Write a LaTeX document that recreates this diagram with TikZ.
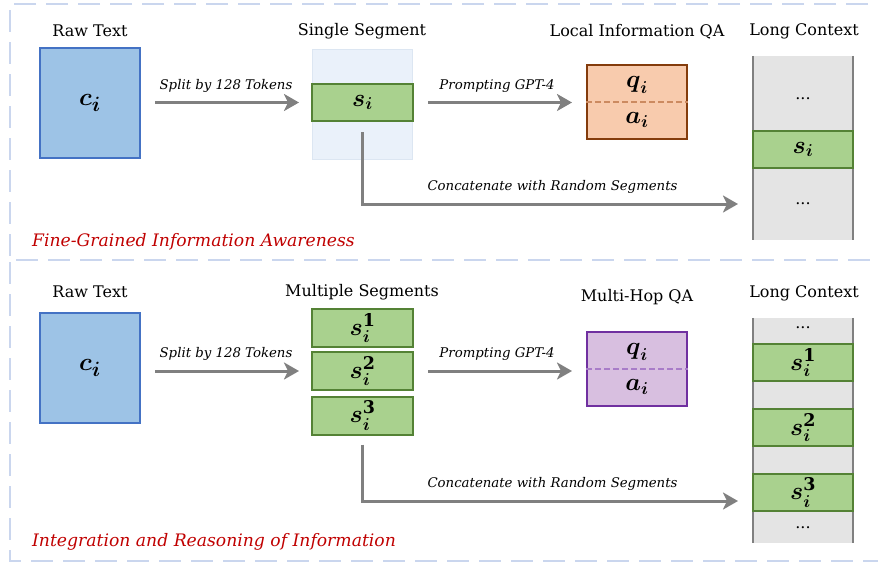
\documentclass[tikz,border=0pt]{standalone}
\usepackage{amsmath}
\usepackage{fontspec}
\setmainfont{DejaVu Serif}
\usetikzlibrary{arrows.meta}
\definecolor{frameblue}{HTML}{CAD6EE}
\definecolor{arrgray}{HTML}{808080}
\definecolor{bluefill}{HTML}{9DC3E6}
\definecolor{blueline}{HTML}{4472C4}
\definecolor{greenfill}{HTML}{A9D18E}
\definecolor{greenline}{HTML}{548235}
\definecolor{orangefill}{HTML}{F8CBAD}
\definecolor{orangeline}{HTML}{843C0C}
\definecolor{orangedash}{HTML}{CC8A60}
\definecolor{purplefill}{HTML}{D8BFE0}
\definecolor{purpleline}{HTML}{7030A0}
\definecolor{purpledash}{HTML}{A87CC8}
\definecolor{segbgfill}{HTML}{EAF1FA}
\definecolor{segbgline}{HTML}{DCE6F2}
\definecolor{lcfill}{HTML}{E4E4E4}
\definecolor{redtxt}{HTML}{C00000}
\newcommand{\bmv}[1]{\boldsymbol{#1}}
\tikzset{
  frame/.style={draw=frameblue, line width=2pt, dash pattern=on 22pt off 10pt},
  arr/.style={draw=arrgray, line width=3pt, -{Stealth[length=15pt,width=17pt,inset=4pt]}},
  title/.style={font=\fontsize{16}{19}\selectfont, text=black, inner sep=0pt},
  lab/.style={font=\fontsize{13.3}{16}\selectfont\itshape, text=black, inner sep=0pt},
  sect/.style={font=\fontsize{17.2}{20}\selectfont\itshape, text=redtxt, inner sep=0pt, anchor=west},
  rawbox/.style={draw=blueline, fill=bluefill, line width=2pt, minimum width=100pt, minimum height=110pt, inner sep=0pt, font=\fontsize{30}{30}\selectfont},
  segbox/.style={draw=greenline, fill=greenfill, line width=2pt, minimum width=101pt, minimum height=37pt, inner sep=0pt, font=\fontsize{25}{25}\selectfont},
  segbg/.style={draw=segbgline, fill=segbgfill, line width=1pt, minimum width=100pt, minimum height=110pt, inner sep=0pt},
  qabox/.style={line width=2pt, minimum width=100pt, minimum height=74pt, inner sep=0pt},
  lcbox/.style={fill=lcfill, draw=none, minimum width=100pt, inner sep=0pt},
  lcside/.style={draw=arrgray, line width=2pt},
  dotsn/.style={font=\fontsize{16}{16}\selectfont, inner sep=0pt},
  mathn/.style={font=\fontsize{25}{25}\selectfont, inner sep=0pt}
}
\begin{document}
\begin{tikzpicture}[x=1pt,y=-1pt]
\useasboundingbox (0,0) rectangle (878,563);
\begin{scope}
\clip (0,0) rectangle (878,563);
\draw[frame] (900,4) -- (10,4) -- (10,260) -- (900,260);
\draw[frame] (10,262) -- (10,561) -- (900,561);
\end{scope}

% ---------- top panel ----------
\node[title] (tRawA) at (90,31) {Raw Text};
\node[title] (tSegA) at (362,31) {Single Segment};
\node[title] (tQAA) at (637,32) {Local Information QA};
\node[title] (tLCA) at (804,31) {Long Context};

\node[rawbox] (rawA) at (90,103) {$\bmv{c}_{\bmv{i}}$};
\node[segbg] (bgA) at (362,104) {};
\node[segbox] (sA) at (362.5,102.5) {$\bmv{s}_{\bmv{i}}$};
\node[qabox, draw=orangeline, fill=orangefill] (qaA) at (637,102) {};
\draw[orangedash, line width=1.5pt, dash pattern=on 6pt off 3pt] (qaA.west) -- (qaA.east);
\node[mathn] (qA) at (637,85) {$\bmv{q}_{\bmv{i}}$};
\node[mathn] (aA) at (637,120) {$\bmv{a}_{\bmv{i}}$};

\node[lcbox, minimum height=184pt] (lcA) at (803,148) {};
\draw[lcside] (lcA.north west) -- (lcA.south west);
\draw[lcside] (lcA.north east) -- (lcA.south east);
\node[segbox, minimum width=100pt] (lsA) at (803,149.5) {$\bmv{s}_{\bmv{i}}$};
\node[dotsn] (d1A) at (803,99) {...};
\node[dotsn] (d2A) at (803,204) {...};

\draw[arr, shorten <=14pt, shorten >=12pt] (rawA.east |- sA) -- node[lab, above=9pt] {Split by 128 Tokens} (sA.west);
\draw[arr, shorten <=14pt, shorten >=14pt] (sA.east) -- node[lab, above=9pt, xshift=-3pt] {Prompting GPT-4} (qaA.west |- sA);
\coordinate (cA) at (738,204);
\draw[arr] ([yshift=-10pt]sA.south) |- node[lab, pos=0.753, above=9pt] {Concatenate with Random Segments} (cA);

\node[sect] (secA) at (32,242) {Fine-Grained Information Awareness};

% ---------- bottom panel ----------
\node[title] (tRawB) at (90,292) {Raw Text};
\node[title] (tSegB) at (362,292) {Multiple Segments};
\node[title] (tQAB) at (637,297) {Multi-Hop QA};
\node[title] (tLCB) at (804,293) {Long Context};

\node[rawbox] (rawB) at (90,368) {$\bmv{c}_{\bmv{i}}$};
\node[segbox, minimum height=38pt] (s1B) at (362.5,328) {$\bmv{s}_{\bmv{i}}^{\mathbf{1}}$};
\node[segbox, minimum height=38pt] (s2B) at (362.5,371) {$\bmv{s}_{\bmv{i}}^{\mathbf{2}}$};
\node[segbox, minimum height=38pt] (s3B) at (362.5,415.5) {$\bmv{s}_{\bmv{i}}^{\mathbf{3}}$};
\node[qabox, draw=purpleline, fill=purplefill] (qaB) at (637,369) {};
\draw[purpledash, line width=1.5pt, dash pattern=on 6pt off 3pt] (qaB.west) -- (qaB.east);
\node[mathn] (qB) at (637,352) {$\bmv{q}_{\bmv{i}}$};
\node[mathn] (aB) at (637,387) {$\bmv{a}_{\bmv{i}}$};

\node[lcbox, minimum height=225pt] (lcB) at (803,430.5) {};
\draw[lcside] (lcB.north west) -- (lcB.south west);
\draw[lcside] (lcB.north east) -- (lcB.south east);
\node[segbox, minimum width=100pt] (ls1B) at (803,362.5) {$\bmv{s}_{\bmv{i}}^{\mathbf{1}}$};
\node[segbox, minimum width=100pt] (ls2B) at (803,427.5) {$\bmv{s}_{\bmv{i}}^{\mathbf{2}}$};
\node[segbox, minimum width=100pt] (ls3B) at (803,492.5) {$\bmv{s}_{\bmv{i}}^{\mathbf{3}}$};
\node[dotsn] (d1B) at (803,328) {...};
\node[dotsn] (d2B) at (803,528) {...};

\draw[arr, shorten <=14pt, shorten >=12pt] (rawB.east |- s2B) -- node[lab, above=9pt] {Split by 128 Tokens} (s2B.west);
\draw[arr, shorten <=14pt, shorten >=14pt] (s2B.east) -- node[lab, above=9pt, xshift=-3pt] {Prompting GPT-4} (qaB.west |- s2B);
\coordinate (cB) at (738,501);
\draw[arr] ([yshift=-9pt]s3B.south) |- node[lab, pos=0.753, above=9pt] {Concatenate with Random Segments} (cB);

\node[sect] (secB) at (32,542) {Integration and Reasoning of Information};
\end{tikzpicture}
\end{document}
